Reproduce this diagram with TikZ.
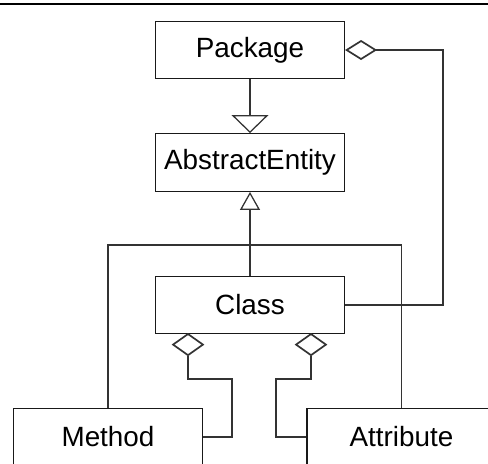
\documentclass[tikz,border=0pt]{standalone}
\usepackage{fontspec}
\setmainfont{Liberation Sans}
\usetikzlibrary{arrows.meta}

\begin{document}
\begin{tikzpicture}
        [x=0.025cm, y=-0.025cm,
        entity/.style={rectangle, draw=black!90, line width=0.9pt, fill=white,
            minimum width=4.72cm, minimum height=1.44cm, inner sep=0pt,
            font=\fontsize{19.8pt}{23pt}\selectfont},
        link/.style={black!80, line width=0.9pt},
        inherit/.style={link, -{Triangle[open, length=0.45cm, width=0.92cm]}},
        inherit small/.style={link, -{Triangle[open, length=0.45cm, width=0.5cm]}},
        aggr/.style={link, -{Diamond[open, length=0.8cm, width=0.5cm, line width=1.2pt]}},
        aggr wide/.style={link, -{Diamond[open, length=0.58cm, width=0.82cm, line width=1.2pt]}}]

        \useasboundingbox (0,0) rectangle (488,463);
        \clip (0,0) rectangle (488,463);

        % rule at the top
        \draw[line width=1.4pt] (0,4) -- (488,4);

        % classes
        \node[entity] (pkg) at (250,50) {Package};
        \node[entity] (abs) at (250,162.5) {AbstractEntity};
        \node[entity] (cls) at (250,305) {Class};
        \node[entity] (meth) at (108,437) {Method};
        \node[entity] (attr) at (401.5,437) {Attribute};

        % bend points
        \coordinate (tree) at (250,245);
        \coordinate (pkgrail) at (443,50);
        \coordinate (mbend) at (232,379);
        \coordinate (mdock) at (188,333);
        \coordinate (abend) at (276,379);
        \coordinate (adock) at (311,333);

        % generalisations
        \draw[inherit] (pkg) -- (abs);
        \draw[inherit small] (cls) -- (abs);
        \draw[link] (meth.north) |- (tree) -| (attr.north);

        % aggregations
        \draw[aggr] (cls.east) -| (pkgrail) -- (pkg.east);
        \draw[aggr wide] (meth.east) -| (mbend) -| (mdock);
        \draw[aggr wide] (attr.west) -| (abend) -| (adock);

\end{tikzpicture}
\end{document}
